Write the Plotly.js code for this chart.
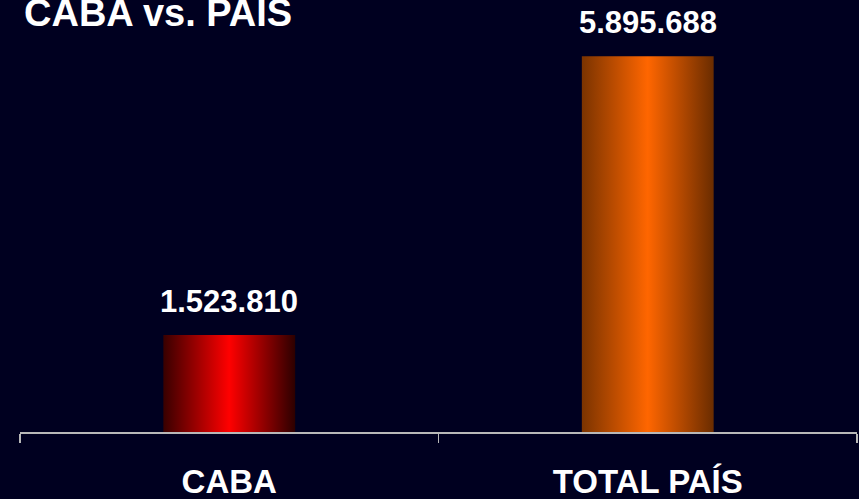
<!DOCTYPE html>
<html>
<head>
<meta charset="utf-8">
<script src="https://cdn.plot.ly/plotly-3.0.1.min.js"></script>
<style>
html,body{margin:0;padding:0;background:#000020;}
#chart{width:859px;height:499px;}
</style>
</head>
<body>
<div id="chart"></div>
<script>
const categories = ["CABA", "TOTAL PAÍS"];
const values = [1523810, 5895688];
const titleText = "CABA vs. PAÍS";

const gradients = [
  {id: "gCABA", edgeL: "#380000", mid: "#ff0000", edgeR: "#2c0000"},
  {id: "gPAIS", edgeL: "#7a3300", mid: "#ff6600", edgeR: "#6a2c00"}
];

function fmt(n){ return String(n).replace(/\B(?=(\d{3})+(?!\d))/g, "."); }

const FONT = "Liberation Sans, Arial, sans-serif";

const trace = {
  type: "bar",
  x: categories,
  y: values,
  width: 0.315,
  marker: {color: ["#ff0000", "#ff6600"], line: {width: 0}},
  hoverinfo: "none"
};

const annotations = categories.map((c, i) => ({
  x: c, y: values[i], xref: "x", yref: "y",
  text: "<b>" + fmt(values[i]) + "</b>",
  showarrow: false, yanchor: "bottom", xanchor: "center",
  yshift: 14,
  font: {family: FONT, size: 31, color: "#ffffff"}
}));

const layout = {
  width: 859, height: 499,
  paper_bgcolor: "#000020", plot_bgcolor: "#000020",
  margin: {l: 20, r: 2, t: 0, b: 67},
  showlegend: false,
  title: {
    text: "<b>" + titleText + "</b>",
    x: 24/859, xref: "container", xanchor: "left",
    y: 0.975, yref: "container", yanchor: "middle",
    font: {family: FONT, size: 38, color: "#ffffff"}
  },
  xaxis: {
    type: "category",
    showline: true, linecolor: "#b8b8b8", linewidth: 2,
    ticks: "outside", tickson: "boundaries", ticklen: 9, tickwidth: 1.5, tickcolor: "#b8b8b8",
    showgrid: false, zeroline: false,
    tickfont: {family: FONT, size: 33, color: "#ffffff"},
    ticklabelstandoff: 19,
    tickprefix: "<b>", ticksuffix: "</b>"
  },
  yaxis: {visible: false, range: [0, 6780000], showgrid: false, zeroline: false},
  annotations: annotations
};

Plotly.newPlot("chart", [trace], layout, {staticPlot: true, displayModeBar: false}).then(gd => {
  const svg = gd.querySelector(".main-svg");
  let defs = svg.querySelector("defs");
  const ns = "http://www.w3.org/2000/svg";
  if (!defs) { defs = document.createElementNS(ns, "defs"); svg.insertBefore(defs, svg.firstChild); }
  gradients.forEach(g => {
    const lg = document.createElementNS(ns, "linearGradient");
    lg.setAttribute("id", g.id);
    lg.setAttribute("x1", "0"); lg.setAttribute("y1", "0");
    lg.setAttribute("x2", "1"); lg.setAttribute("y2", "0");
    [[0, g.edgeL], [0.5, g.mid], [1, g.edgeR]].forEach(([o, col]) => {
      const s = document.createElementNS(ns, "stop");
      s.setAttribute("offset", o);
      s.setAttribute("stop-color", col);
      lg.appendChild(s);
    });
    defs.appendChild(lg);
  });
  const paths = gd.querySelectorAll(".barlayer .point path");
  paths.forEach((p, i) => { p.style.fill = "url(#" + gradients[i].id + ")"; });
});
</script>
</body>
</html>
